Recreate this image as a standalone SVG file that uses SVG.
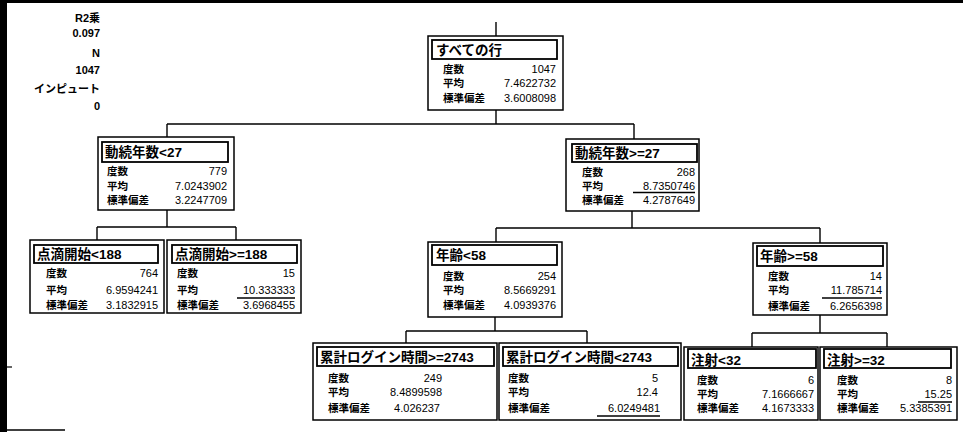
<svg xmlns="http://www.w3.org/2000/svg" width="963" height="432" viewBox="0 0 963 432">
<style>
text{font-family:"Liberation Sans","Noto Sans CJK JP",sans-serif;fill:#000}
.box{fill:#fff;stroke:#000;stroke-width:1.5}
.hdr{fill:#fff;stroke:#000;stroke-width:1.8}
.t{font-size:13.5px;font-weight:bold}
.l{font-size:10.5px;font-weight:bold}
.v{font-size:11px;text-anchor:end}
.s{font-size:11px;font-weight:bold;text-anchor:end}
.c{fill:none;stroke:#000;stroke-width:1.4}
.u{stroke:#000;stroke-width:1.5}
</style>
<rect width="963" height="432" fill="#fff"/>
<rect x="0" y="0" width="963" height="3" fill="#000"/>
<rect x="0" y="0" width="7" height="432" fill="#000"/>
<line x1="7" y1="367" x2="12" y2="367" stroke="#000" stroke-width="1.2"/>
<line x1="7" y1="430" x2="65" y2="430" stroke="#000" stroke-width="1.5"/>
<g id="stats">
<text class="s" x="100" y="22">R2乗</text>
<text class="s" x="100" y="37">0.097</text>
<text class="s" x="100" y="57">N</text>
<text class="s" x="100" y="74">1047</text>
<text class="s" x="100" y="93">インピュート</text>
<text class="s" x="100" y="110">0</text>
</g>
<g id="connectors">
<path class="c" d="M496 22V36"/>
<path class="c" d="M496 110V124M167 124H634M167 124V137M634 124V139"/>
<path class="c" d="M167 210V227M97 227H236M97 227V240M236 227V240"/>
<path class="c" d="M632 211V228M496 228H820M496 228V242M820 228V243"/>
<path class="c" d="M495 317V331M406 331H587M406 331V343M587 331V343"/>
<path class="c" d="M820 315V333M752 333H887M752 333V347M887 333V347"/>
</g>
<g id="root">
<rect class="box" x="428" y="36" width="135" height="74"/>
<rect class="hdr" x="432" y="40" width="125" height="19"/>
<text class="t" x="436" y="55">すべての行</text>
<text class="l" x="443" y="73">度数</text><text class="v" x="556" y="73">1047</text>
<text class="l" x="443" y="87">平均</text><text class="v" x="556" y="87">7.4622732</text>
<text class="l" x="443" y="102">標準偏差</text><text class="v" x="556" y="102">3.6008098</text>
</g>
<g id="n1">
<rect class="box" x="98" y="137" width="136" height="73"/>
<rect class="hdr" x="102" y="142" width="126" height="20"/>
<text class="t" x="105" y="157">動続年数&lt;27</text>
<text class="l" x="107" y="175">度数</text><text class="v" x="227" y="175">779</text>
<text class="l" x="107" y="190">平均</text><text class="v" x="227" y="190">7.0243902</text>
<text class="l" x="107" y="204">標準偏差</text><text class="v" x="227" y="204">3.2247709</text>
</g>
<g id="n2">
<rect class="box" x="566" y="139" width="133" height="72"/>
<rect class="hdr" x="572" y="144" width="125" height="18"/>
<text class="t" x="575" y="158">動続年数&gt;=27</text>
<text class="l" x="582" y="176">度数</text><text class="v" x="695" y="176">268</text>
<text class="l" x="582" y="190">平均</text><text class="v" x="695" y="190">8.7350746</text>
<line class="u" x1="633" y1="192.5" x2="695" y2="192.5"/>
<text class="l" x="582" y="204">標準偏差</text><text class="v" x="695" y="204">4.2787649</text>
</g>
<g id="n3">
<rect class="box" x="30" y="240" width="134" height="73"/>
<rect class="hdr" x="34" y="245" width="124" height="18"/>
<text class="t" x="37" y="259">点滴開始&lt;188</text>
<text class="l" x="46" y="277">度数</text><text class="v" x="158" y="277">764</text>
<text class="l" x="46" y="294">平均</text><text class="v" x="158" y="294">6.9594241</text>
<text class="l" x="46" y="309">標準偏差</text><text class="v" x="158" y="309">3.1832915</text>
</g>
<g id="n4">
<rect class="box" x="167" y="240" width="134" height="73"/>
<rect class="hdr" x="172" y="245" width="125" height="18"/>
<text class="t" x="175" y="259">点滴開始&gt;=188</text>
<text class="l" x="177" y="277">度数</text><text class="v" x="295" y="277">15</text>
<text class="l" x="177" y="294">平均</text><text class="v" x="295" y="294">10.333333</text>
<line class="u" x1="237" y1="298" x2="295" y2="298"/>
<text class="l" x="177" y="309">標準偏差</text><text class="v" x="295" y="309">3.6968455</text>
</g>
<g id="n5">
<rect class="box" x="428" y="242" width="134" height="75"/>
<rect class="hdr" x="432" y="245" width="125" height="20"/>
<text class="t" x="436" y="260">年齢&lt;58</text>
<text class="l" x="443" y="280">度数</text><text class="v" x="556" y="280">254</text>
<text class="l" x="443" y="294">平均</text><text class="v" x="556" y="294">8.5669291</text>
<text class="l" x="443" y="309">標準偏差</text><text class="v" x="556" y="309">4.0939376</text>
</g>
<g id="n6">
<rect class="box" x="753" y="243" width="134" height="72"/>
<rect class="hdr" x="757" y="246" width="126" height="20"/>
<text class="t" x="760" y="261">年齢&gt;=58</text>
<text class="l" x="768" y="280">度数</text><text class="v" x="882" y="280">14</text>
<text class="l" x="768" y="294">平均</text><text class="v" x="882" y="294">11.785714</text>
<line class="u" x1="822" y1="298" x2="882" y2="298"/>
<text class="l" x="768" y="310">標準偏差</text><text class="v" x="882" y="310">6.2656398</text>
</g>
<g id="n7">
<rect class="box" x="313" y="343" width="184" height="77"/>
<rect class="hdr" x="317" y="347" width="177" height="19"/>
<text class="t" x="320" y="362">累計ログイン時間&gt;=2743</text>
<text class="l" x="328" y="382">度数</text><text class="v" x="442" y="382">249</text>
<text class="l" x="328" y="396">平均</text><text class="v" x="442" y="396">8.4899598</text>
<text class="l" x="328" y="412">標準偏差</text><text class="v" x="440" y="412">4.026237</text>
</g>
<g id="n8">
<rect class="box" x="499" y="343" width="182" height="77"/>
<rect class="hdr" x="503" y="347" width="175" height="19"/>
<text class="t" x="506" y="362">累計ログイン時間&lt;2743</text>
<text class="l" x="508" y="382">度数</text><text class="v" x="658" y="382">5</text>
<text class="l" x="508" y="396">平均</text><text class="v" x="658" y="396">12.4</text>
<text class="l" x="508" y="412">標準偏差</text><text class="v" x="660" y="412">6.0249481</text>
<line class="u" x1="597" y1="416" x2="660" y2="416"/>
</g>
<g id="n9">
<rect class="box" x="684" y="347" width="134" height="73"/>
<rect class="hdr" x="688" y="349" width="128" height="19"/>
<text class="t" x="691" y="365">注射&lt;32</text>
<text class="l" x="697" y="384">度数</text><text class="v" x="814" y="384">6</text>
<text class="l" x="697" y="398">平均</text><text class="v" x="814" y="398">7.1666667</text>
<text class="l" x="697" y="412">標準偏差</text><text class="v" x="814" y="412">4.1673333</text>
</g>
<g id="n10">
<rect class="box" x="820" y="347" width="137" height="73"/>
<rect class="hdr" x="824" y="349" width="127" height="19"/>
<text class="t" x="827" y="365">注射&gt;=32</text>
<text class="l" x="837" y="384">度数</text><text class="v" x="952" y="384">8</text>
<text class="l" x="837" y="398">平均</text><text class="v" x="952" y="398">15.25</text>
<line class="u" x1="918" y1="402" x2="952" y2="402"/>
<text class="l" x="837" y="412">標準偏差</text><text class="v" x="952" y="412">5.3385391</text>
</g>
</svg>
